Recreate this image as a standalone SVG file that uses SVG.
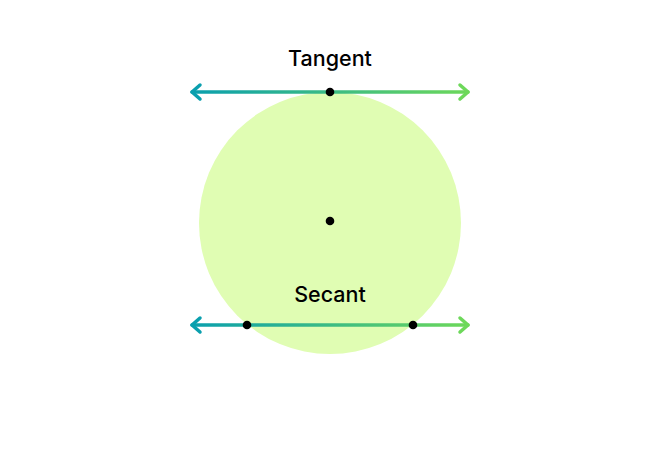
<svg xmlns="http://www.w3.org/2000/svg" width="660" height="450" viewBox="0 0 660 450">
<defs>
<linearGradient id="g" gradientUnits="userSpaceOnUse" x1="191" y1="0" x2="469" y2="0">
<stop offset="0" stop-color="#0a9fae"/>
<stop offset="1" stop-color="#6dd85a"/>
</linearGradient>
<style>
.ln{stroke:url(#g);stroke-width:3.5;fill:none;stroke-linecap:round;stroke-linejoin:round}
.al{stroke:#0a9fae;stroke-width:3.5;fill:none;stroke-linecap:round;stroke-linejoin:round}
.ar{stroke:#6dd85a;stroke-width:3.5;fill:none;stroke-linecap:round;stroke-linejoin:round}
.pt{fill:#000}
.lb{font-family:Inter,"Liberation Sans",sans-serif;font-size:21.5px;font-weight:500;fill:#000;text-anchor:middle}
</style>
</defs>
<rect width="660" height="450" fill="#fff"/>
<g id="circle"><circle cx="330" cy="223" r="131" fill="#e0fdb3"/></g>
<g id="connectors">
<g id="tangent-line">
<line class="ln" x1="192" y1="92" x2="468" y2="92"/>
<polyline class="al" points="200,85 192,92 200,99"/>
<polyline class="ar" points="460,85 468,92 460,99"/>
</g>
<g id="secant-line">
<line class="ln" x1="192" y1="325" x2="468" y2="325"/>
<polyline class="al" points="200,318 192,325 200,332"/>
<polyline class="ar" points="460,318 468,325 460,332"/>
</g>
</g>
<g id="center"><circle class="pt" cx="330" cy="221" r="4.3"/></g>
<g id="tangent-point"><circle class="pt" cx="330" cy="92" r="4.3"/></g>
<g id="secant-point-1"><circle class="pt" cx="247" cy="325" r="4.3"/></g>
<g id="secant-point-2"><circle class="pt" cx="413" cy="325" r="4.3"/></g>
<g id="tangent-label"><text class="lb" x="330" y="66">Tangent</text></g>
<g id="secant-label"><text class="lb" x="330" y="302">Secant</text></g>
</svg>
